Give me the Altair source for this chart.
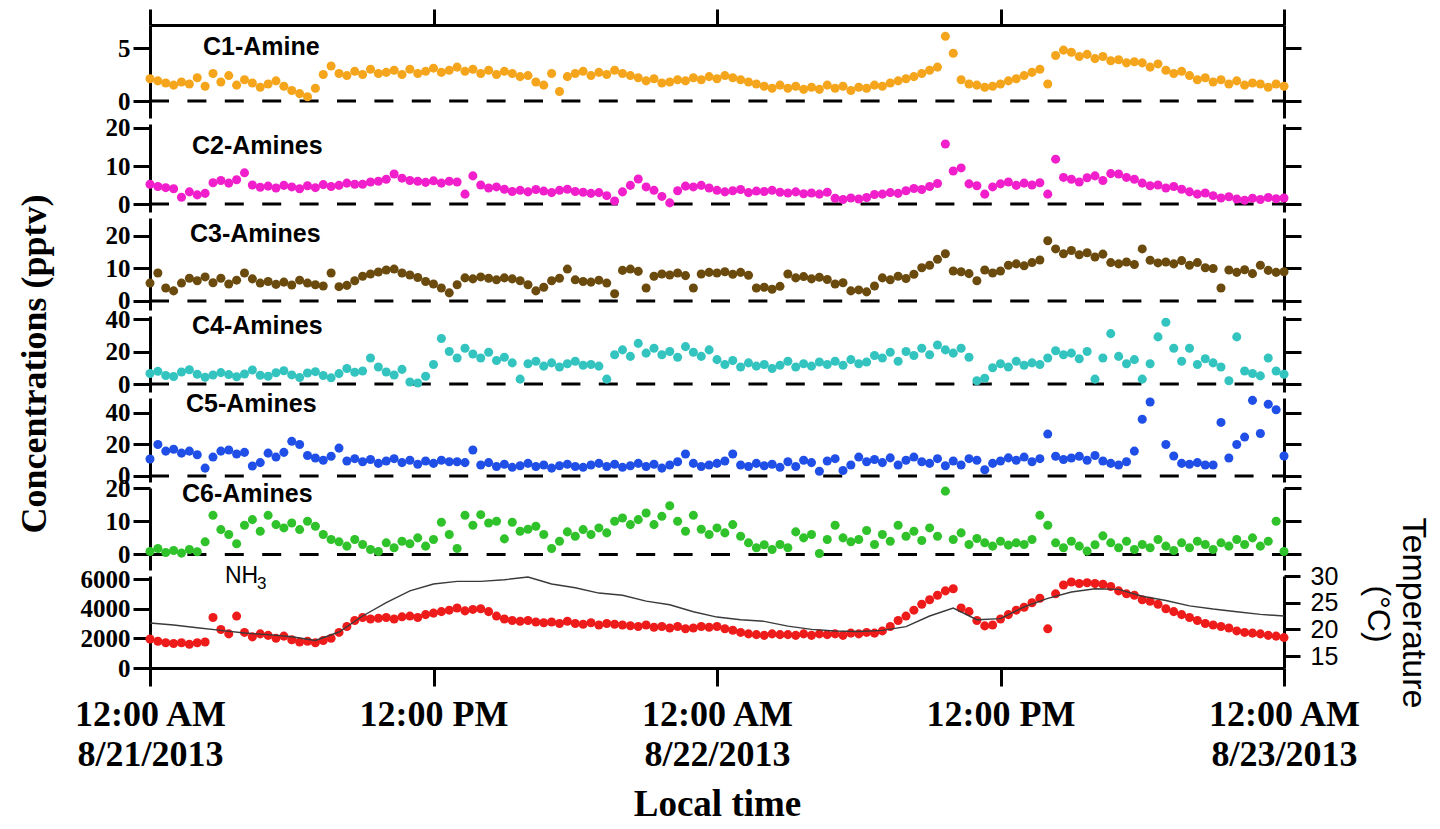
import altair as alt
import pandas as pd

# ---- measurements, 20-minute sampling from 8/21/2013 00:00 to 8/23/2013 00:00 ----
c1_amine = [
    2.1, 1.9, 1.7, 1.5, 1.8, 1.6, 2.2, 1.4, 2.6, 1.8, 2.4, 1.5,
    2.0, 1.7, 1.3, 1.6, 1.9, 1.4, 1.0, 0.7, 0.4, 1.2, 2.5, 3.3,
    2.6, 2.4, 2.8, 2.5, 3.0, 2.6, 2.7, 2.9, 2.5, 3.0, 2.6, 2.8,
    3.1, 2.7, 2.9, 3.2, 2.8, 3.0, 2.6, 2.9, 2.5, 2.8, 2.6, 2.3,
    2.4, 1.8, 1.5, 2.6, 0.9, 2.3, 2.6, 2.8, 2.4, 2.7, 2.5, 2.9,
    2.6, 2.4, 2.2, 1.9, 2.1, 1.7, 1.8, 2.0, 1.9, 2.2, 2.0, 2.3,
    2.1, 2.4, 2.2, 2.0, 1.8, 1.6, 1.4, 1.2, 1.5, 1.2, 1.4, 1.1,
    1.3, 1.1, 1.5, 1.2, 1.4, 1.0, 1.3, 1.2, 1.5, 1.4, 1.7, 1.9,
    2.1, 2.3, 2.6, 2.9, 3.2, 6.1, 4.5, 2.0, 1.6, 1.5, 1.3, 1.4,
    1.6, 1.9, 2.1, 2.4, 2.7, 3.0, 1.6, 4.3, 4.8, 4.6, 4.2, 4.4,
    4.0, 4.2, 3.8, 3.9, 3.6, 3.7, 3.6, 3.2, 3.5, 2.9, 2.6, 2.8,
    2.4, 2.0, 2.2, 1.8, 2.0, 1.6, 1.9, 1.5, 1.7, 1.6, 1.3, 1.6,
    1.4,
]
c2_amines = [
    5.2, 4.6, 4.3, 4.0, 1.8, 3.2, 2.4, 2.8, 5.6, 6.2, 5.5, 6.4,
    8.2, 5.0, 4.4, 4.7, 4.2, 4.9, 4.5, 4.0, 4.8, 4.3, 5.1, 4.6,
    4.9, 5.5, 5.2, 5.2, 5.8, 6.0, 6.5, 7.9, 6.8, 6.2, 6.0, 5.7,
    6.1, 5.5, 6.0, 5.8, 2.6, 7.4, 5.0, 4.2, 4.5, 3.9, 3.3, 3.6,
    3.2, 3.8, 3.4, 3.0, 3.6, 3.9, 3.3, 3.1, 2.8, 3.0, 2.2, 0.8,
    3.2, 4.9, 6.6, 4.5, 3.6, 2.0, 0.3, 3.5, 4.7, 4.5, 4.9, 4.2,
    3.6, 3.2, 3.5, 3.8, 3.0, 3.4, 3.3, 3.6, 3.1, 2.9, 3.2, 2.7,
    2.9, 2.6, 3.1, 1.5, 1.2, 1.6, 1.3, 1.7, 2.5, 2.6, 3.0, 2.8,
    3.5, 4.1, 3.8, 4.6, 5.4, 15.8, 8.7, 9.5, 5.3, 4.8, 2.6, 4.5,
    5.3, 5.8, 4.9, 5.5, 5.0, 5.6, 2.6, 11.8, 7.0, 6.5, 5.8, 6.9,
    7.4, 6.2, 8.0, 7.9, 7.0, 6.5, 5.5, 4.8, 5.0, 4.2, 4.6, 3.9,
    3.2, 2.6, 2.9, 2.2, 1.6, 1.9, 1.3, 1.0, 1.5, 1.2, 1.7, 1.4,
    1.6,
]
c3_amines = [
    5.5, 8.6, 4.0, 3.1, 5.5, 7.0, 6.2, 7.4, 5.6, 7.0, 5.2, 6.4,
    8.6, 6.8, 5.5, 6.0, 5.1, 5.8, 4.9, 6.4, 5.5, 5.0, 4.6, 8.6,
    4.4, 4.8, 6.2, 7.6, 8.3, 8.9, 9.5, 9.8, 8.6, 8.0, 7.2, 6.0,
    5.2, 4.0, 2.5, 5.0, 7.1, 6.8, 7.4, 7.0, 6.5, 7.1, 6.8, 6.2,
    5.0, 3.1, 4.2, 6.2, 7.0, 9.8, 6.5, 6.0, 5.8, 6.4, 5.5, 2.2,
    9.4, 9.8, 9.1, 4.0, 7.6, 8.3, 8.0, 8.6, 7.8, 4.0, 8.3, 8.8,
    8.6, 9.0, 8.2, 8.8, 7.9, 4.0, 4.2, 3.6, 4.5, 8.3, 7.1, 7.5,
    6.8, 7.3, 6.6, 5.2, 5.6, 3.1, 3.4, 2.8, 4.6, 7.1, 6.5, 7.6,
    6.9, 8.2, 10.2, 11.0, 12.8, 14.5, 9.2, 9.0, 8.4, 6.2, 9.5, 8.6,
    9.2, 11.0, 11.4, 10.8, 11.8, 12.6, 18.5, 16.0, 14.5, 15.5, 14.2, 14.8,
    13.5, 14.4, 11.8, 11.4, 12.0, 11.2, 16.0, 12.5, 11.7, 12.0, 11.4, 12.4,
    11.0, 11.8, 10.2, 10.0, 4.0, 9.5, 8.8, 9.6, 8.4, 11.0, 9.4, 8.8,
    9.0,
]
c4_amines = [
    6.5, 7.8, 5.2, 4.6, 7.4, 8.8, 6.0, 4.2, 5.5, 7.0, 5.8, 4.5,
    6.2, 8.6, 5.4, 4.8, 6.9, 8.2, 5.6, 4.0, 6.8, 7.6, 5.2, 3.8,
    6.4, 9.5, 7.2, 8.0, 16.0, 10.5, 7.4, 5.5, 9.0, 1.2, 0.6, 4.8,
    12.0, 28.0, 20.0, 16.0, 22.0, 18.5, 16.0, 19.5, 14.5, 16.5, 13.0, 3.0,
    12.5, 14.0, 11.0, 13.0, 10.5, 12.5, 14.0, 11.5, 12.0, 11.0, 3.0, 18.0,
    21.0, 17.0, 25.0, 19.0, 22.0, 18.0, 20.0, 16.5, 23.0, 19.5, 17.0, 21.0,
    15.0, 12.0, 14.5, 10.5, 13.0, 11.0, 12.0, 9.5, 11.5, 14.0, 10.5, 12.5,
    11.0, 13.5, 12.0, 14.0, 11.5, 15.0, 12.5, 13.5, 17.5, 16.0, 19.5, 14.0,
    20.0, 17.5, 22.0, 18.0, 24.0, 21.0, 19.0, 22.0, 16.5, 2.0, 3.5, 10.0,
    12.5, 10.5, 14.0, 11.5, 13.0, 12.0, 16.0, 20.5, 18.0, 19.0, 15.5, 20.0,
    3.0, 16.0, 31.0, 17.0, 12.5, 15.0, 3.0, 12.5, 29.0, 38.0, 22.0, 14.0,
    22.0, 12.0, 15.5, 13.0, 10.5, 2.0, 29.0, 8.0, 6.5, 5.0, 16.0, 8.0,
    6.0,
]
c5_amines = [
    10.8, 20.0, 15.8, 17.0, 14.5, 15.8, 13.5, 5.0, 12.0, 15.8, 16.5, 14.0,
    15.0, 6.3, 8.5, 14.5, 12.0, 15.0, 22.0, 20.0, 13.0, 11.4, 10.0, 12.5,
    17.7, 9.5, 11.0, 9.0, 10.5, 8.0, 9.5, 11.0, 8.5, 10.0, 7.5, 9.5,
    8.0, 10.0, 9.0, 9.0, 8.5, 16.5, 7.0, 8.5, 6.0, 7.5, 5.5, 6.5,
    8.0, 6.0, 7.0, 5.0, 6.5, 7.5, 6.0, 5.5, 7.0, 8.0, 6.0, 7.5,
    5.5, 6.5, 8.0, 6.0, 7.5, 5.0, 7.0, 9.0, 14.0, 8.0, 6.0, 7.0,
    8.0, 9.5, 14.0, 7.0, 6.0, 8.0, 6.5, 7.5, 5.5, 9.0, 6.0, 10.0,
    8.5, 3.0, 9.5, 11.0, 3.5, 7.0, 12.0, 9.0, 10.5, 8.5, 11.5, 7.0,
    10.0, 12.0, 9.0, 8.0, 11.0, 6.5, 9.5, 7.0, 11.0, 10.0, 4.0, 8.0,
    9.5, 11.5, 10.0, 12.0, 9.0, 11.0, 26.6, 12.5, 10.5, 11.4, 12.5, 10.0,
    13.0, 9.5, 8.0, 7.0, 9.0, 15.8, 36.0, 47.0, None, 20.0, 12.7, 8.0,
    7.5, 8.5, 7.0, 7.0, 34.0, 11.4, 20.0, 24.7, 48.0, 27.0, 45.5, 42.0,
    12.7,
]
c6_amines = [
    0.9, 1.8, 0.6, 1.2, 0.4, 1.5, 0.8, 3.8, 11.8, 7.5, 6.0, 3.2,
    8.8, 10.5, 7.0, 11.8, 9.0, 8.0, 9.5, 7.5, 10.0, 8.5, 6.0, 4.5,
    3.8, 2.5, 4.5, 3.0, 1.5, 0.9, 3.5, 2.0, 4.0, 3.2, 5.0, 2.5,
    4.5, 9.7, 6.0, 1.8, 11.8, 8.8, 12.0, 9.5, 10.0, 4.7, 9.7, 7.0,
    7.6, 8.5, 6.0, 1.8, 4.0, 6.8, 5.5, 7.5, 6.0, 8.0, 6.5, 10.0,
    11.0, 9.0, 10.5, 12.5, 9.0, 11.5, 14.7, 10.0, 7.0, 11.8, 7.6, 6.0,
    8.0, 6.5, 9.0, 5.5, 3.5, 2.0, 2.9, 1.5, 3.0, 2.0, 6.8, 5.0,
    6.0, 0.3, 4.5, 8.8, 5.0, 3.8, 4.5, 7.2, 3.0, 6.0, 4.0, 8.8,
    5.5, 7.0, 4.2, 8.0, 5.5, 19.1, 4.5, 6.5, 3.0, 4.8, 3.5, 2.5,
    4.0, 2.8, 3.5, 3.0, 4.5, 11.8, 8.8, 3.5, 2.0, 4.0, 2.5, 1.0,
    2.9, 5.6, 3.5, 2.0, 4.0, 1.5, 3.0, 2.0, 4.5, 2.5, 1.2, 3.5,
    2.0, 4.0, 3.0, 1.5, 3.5, 2.5, 4.5, 3.0, 5.0, 2.5, 4.0, 10.0,
    0.9,
]
nh3 = [
    1960, 1800, 1700, 1650, 1700, 1600, 1700, 1750, 3400, 2600, 2300, 3500,
    2400, 2100, 2300, 2200, 2000, 2150, 1900, 1750, 1800, 1700, 1850, 2000,
    2400, 2800, 3200, 3400, 3300, 3350, 3400, 3300, 3450, 3500, 3400, 3600,
    3700, 3800, 3900, 4050, 3850, 3950, 4000, 3800, 3500, 3300, 3200, 3150,
    3200, 3100, 3050, 3100, 3000, 3150, 3000, 2950, 3050, 2900, 3000, 2950,
    2900, 2850, 2800, 2900, 2750, 2800, 2700, 2800, 2650, 2700, 2800, 2750,
    2800, 2650, 2550, 2400, 2300, 2250, 2200, 2300, 2250, 2250, 2200, 2300,
    2200, 2300, 2250, 2300, 2200, 2350, 2300, 2400, 2350, 2500, 2800, 3200,
    3500, 3900, 4300, 4600, 4900, 5200, 5340, 4050, 3800, 3200, 2840, 2900,
    3300, 3600, 3900, 4100, 4400, 4700, 2640, 5000, 5600, 5800, 5700, 5750,
    5700, 5650, 5500, 5200, 5000, 4900, 4600, 4500, 4300, 4000, 3800, 3600,
    3400, 3200, 3000, 2900, 2800, 2700, 2500, 2400, 2350, 2300, 2200, 2150,
    2050,
]
# hourly air temperature (°C)
temperature = [
    21.2, 20.8, 20.3, 19.8, 19.3, 19.0, 18.6, 17.9, 19.5, 22.5, 25.0, 27.2,
    28.5, 29.0, 29.0, 29.3, 29.8, 28.5, 27.8, 26.8, 26.4, 25.3, 24.6, 23.3,
    22.3, 21.8, 21.5, 20.6, 20.0, 19.7, 19.6, 19.8, 20.5, 22.5, 24.0, 21.8,
    22.0, 24.2, 25.8, 27.0, 27.6, 27.5, 26.2, 25.4, 24.4, 23.8, 23.3, 22.8,
    22.5,
]

times = pd.date_range("2013-08-21 00:00", "2013-08-23 00:00", freq="20min")
temp_times = pd.date_range("2013-08-21 00:00", "2013-08-23 00:00", freq="1h")

SERIF = "Liberation Serif"
SANS = "Liberation Sans"
W = 1134
DASH = [19, 18.4]
DOT = 82

x_scale = alt.Scale(domain=[alt.DateTime(year=2013, month=8, date=21, hours=0),
                            alt.DateTime(year=2013, month=8, date=23, hours=0)])
x_ticks = [alt.DateTime(year=2013, month=8, date=d, hours=h)
           for d, h in [(21, 0), (21, 12), (22, 0), (22, 12), (23, 0)]]

frame = dict(domainColor="black", domainWidth=3, tickColor="black", tickWidth=3,
             grid=False, title=None)

top_axis = alt.Axis(orient="top", values=x_ticks, labels=False, tickSize=16, **frame)
bottom_axis = alt.Axis(
    orient="bottom", values=x_ticks, tickSize=18,
    domainColor="black", domainWidth=3, tickColor="black", tickWidth=3, grid=False,
    labelExpr="[timeFormat(datum.value, '%-I:%M %p'), hours(datum.value) == 0 ? timeFormat(datum.value, '%-m/%-d/%Y') : '']",
    labelFont=SERIF, labelFontWeight="bold", labelFontSize=36, labelColor="black",
    labelPadding=11, labelLineHeight=40, labelFlush=False, labelOverlap=False,
    title="Local time", titleFont=SERIF, titleFontWeight="bold", titleFontSize=37,
    titleColor="black", titlePadding=14,
)


def left_axis(values):
    return alt.Axis(orient="left", values=values, tickSize=17, format="d", labelFont=SERIF,
                    labelFontWeight="bold", labelFontSize=25, labelColor="black",
                    labelPadding=3, labelFlush=False, labelOverlap=False, **frame)


def right_axis(values):
    return alt.Axis(orient="right", values=values, tickSize=17, labels=False, **frame)


one_row = pd.DataFrame({"k": [0]})


def label(text, x, y, size=25, weight="bold", font=SANS, angle=0, align="left"):
    return alt.Chart(one_row).mark_text(
        text=text, font=font, fontSize=size, fontWeight=weight, color="black",
        align=align, baseline="middle", angle=angle,
    ).encode(x=alt.value(x), y=alt.value(y))


def amine_panel(values, color, name, name_x, name_y, height, domain, ticks,
                x_axis=None, extras=()):
    df = pd.DataFrame({"time": times, "value": values})
    scale = alt.Scale(domain=domain, nice=False, zero=False)
    zero_line = alt.Chart(pd.DataFrame({"zero": [0]})).mark_rule(
        color="black", strokeWidth=3, strokeDash=DASH,
    ).encode(
        x=alt.value(0), x2=alt.value(W),
        y=alt.Y("zero:Q", scale=scale, axis=right_axis(ticks)),
    )
    dots = alt.Chart(df).mark_circle(size=DOT, color=color, opacity=1).encode(
        x=alt.X("time:T", scale=x_scale, axis=x_axis),
        y=alt.Y("value:Q", scale=scale, axis=left_axis(ticks)),
    )
    layers = [zero_line, dots, label(name, name_x, name_y)] + list(extras)
    return alt.layer(*layers).resolve_scale(y="independent").properties(width=W, height=height)


p1 = amine_panel(c1_amine, "#F5A51C", "C1-Amine", 53, 22, 93, [-1.6, 7.17], [0, 5],
                 x_axis=top_axis)
p2 = amine_panel(c2_amines, "#F01FCB", "C2-Amines", 42, 22, 88, [-2.1, 21.05], [0, 10, 20])
p3 = amine_panel(c3_amines, "#6B4A0D", "C3-Amines", 40, 16, 92, [-2.77, 25.5], [0, 10, 20])
p4 = amine_panel(c4_amines, "#33C4C0", "C4-Amines", 42, 10, 76, [-4.92, 41.85], [0, 20, 40],
                 extras=[label("Concentrations (pptv)", -115, 48, size=36, font=SERIF,
                               angle=270, align="center")])
p5 = amine_panel(c5_amines, "#1F4FE6", "C5-Amines", 36, 6, 84, [-3.81, 49.5], [0, 20, 40])
p6 = amine_panel(c6_amines, "#2FC22A", "C6-Amines", 32, 6, 82, [-4.7, 20.05], [0, 10, 20])

# ammonia with air temperature on the right axis
nh3_df = pd.DataFrame({"time": times, "value": nh3})
temp_df = pd.DataFrame({"time": temp_times, "temp": temperature})
nh3_dots = alt.Chart(nh3_df).mark_circle(size=DOT, color="#EE1B1B", opacity=1).encode(
    x=alt.X("time:T", scale=x_scale, axis=bottom_axis),
    y=alt.Y("value:Q", scale=alt.Scale(domain=[0, 6203], nice=False, zero=False),
            axis=left_axis([0, 2000, 4000, 6000])),
)
temp_line = alt.Chart(temp_df).mark_line(color="#3A3A3A", strokeWidth=1.4).encode(
    x=alt.X("time:T", scale=x_scale),
    y=alt.Y("temp:Q", scale=alt.Scale(domain=[12.75, 30], nice=False, zero=False),
            axis=alt.Axis(orient="right", values=[15, 20, 25, 30], tickSize=16,
                          labelFont=SANS, labelFontSize=25, labelColor="black",
                          labelPadding=10, labelFlush=False, labelOverlap=False, **frame)),
)
p7 = alt.layer(
    nh3_dots, temp_line,
    label("NH", 75, 0, size=23, weight="normal"),
    label("3", 107, 8, size=17, weight="normal"),
    label("(°C)", W + 94, 38, size=32, weight="normal", angle=90, align="center"),
    label("Temperature", W + 129, 37, size=34, weight="normal", angle=90, align="center"),
).resolve_scale(y="independent").properties(width=W, height=92)

chart = alt.vconcat(
    p1, p2, p3, p4, p5, p6, p7, spacing=6, bounds="flush",
).properties(
    padding={"left": 17, "top": 7, "right": 5, "bottom": 2},
).configure_view(stroke=None)

chart.save("out.html", embed_options={"renderer": "svg", "actions": False})
